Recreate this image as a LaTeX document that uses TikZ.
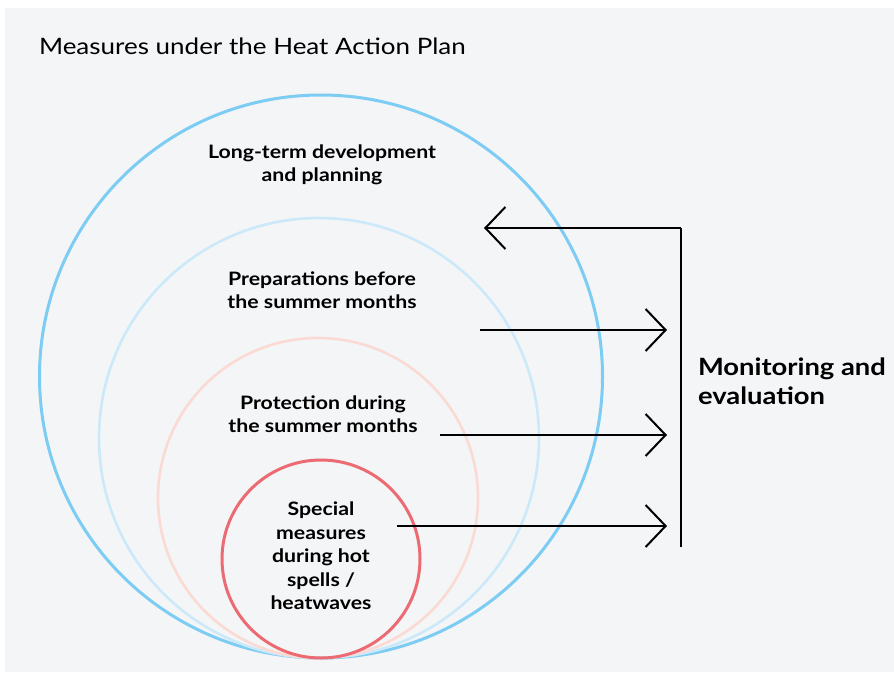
\documentclass[tikz,border=0pt]{standalone}
\usepackage{fontspec}
\setmainfont{Lato}[FakeStretch=1.15]
\usetikzlibrary{arrows.meta}
\definecolor{bg_grey}{RGB}{244,245,247}
\definecolor{blue_outer}{RGB}{125,204,243}
\definecolor{blue_light}{RGB}{204,233,250}
\definecolor{pink_soft}{RGB}{251,218,212}
\definecolor{red_core}{RGB}{236,106,114}

\begin{document}
\begin{tikzpicture}[x=1pt,y=-1pt,line width=2pt,
                    >={Straight Barb[length=20pt,width=42pt,line width=2pt]}]
    \tikzstyle{zone}=[circle,draw,line width=2.6pt,inner sep=0pt]
    \tikzstyle{zonetext}=[font=\bfseries\fontsize{18.5}{23.5}\selectfont,align=center,text=black]

    \useasboundingbox (0,0) rectangle (894,675);
    \fill[bg_grey] (5,8) rectangle (894,672);

    \node[anchor=base west,inner sep=0pt,font=\fontsize{22.6}{28}\selectfont] (title) at (38,54) {Measures under the Heat Action Plan};

    % nested circles, all touching at the bottom
    \node[zone,draw=blue_outer,line width=3pt,minimum size=563pt] (outer) at (321,376.5) {};
    \node[zone,draw=blue_light,minimum size=440pt]                (prep)  at (319,438) {};
    \node[zone,draw=pink_soft,minimum size=320pt]                 (prot)  at (318,498) {};
    \node[zone,draw=red_core,line width=3pt,minimum size=198pt]   (core)  at (321,559) {};

    \node[zonetext] (outer_text) at (322,165) {Long-term development\\and planning};
    \node[zonetext] (prep_text)  at (322,290) {Preparations before\\the summer months};
    \node[zonetext] (prot_text)  at (323,414) {Protection during\\the summer months};
    \node[zonetext] (core_text)  at (321,556) {Special\\measures\\during hot\\spells /\\heatwaves};

    \node[anchor=west,align=left,inner sep=0pt,font=\bfseries\fontsize{23.8}{29}\selectfont] (monitor) at (697,381) {Monitoring and\\evaluation};

    % feedback bar
    \coordinate (bar_top) at (681,228);
    \coordinate (bar_bot) at (681,547);
    \coordinate (back_end) at (484,228);
    \coordinate (prep_in) at (480,330);
    \coordinate (prot_in) at (440,435);
    \coordinate (core_in) at (397,526);
    \coordinate (prep_out) at (667,330);
    \coordinate (prot_out) at (667,435);
    \coordinate (core_out) at (667,526);

    \draw (bar_bot) -- (bar_top);
    \draw[->] (bar_top) -- (back_end);
    \draw[->] (prep_in) -- (prep_out);
    \draw[->] (prot_in) -- (prot_out);
    \draw[->] (core_in) -- (core_out);
\end{tikzpicture}
\end{document}
